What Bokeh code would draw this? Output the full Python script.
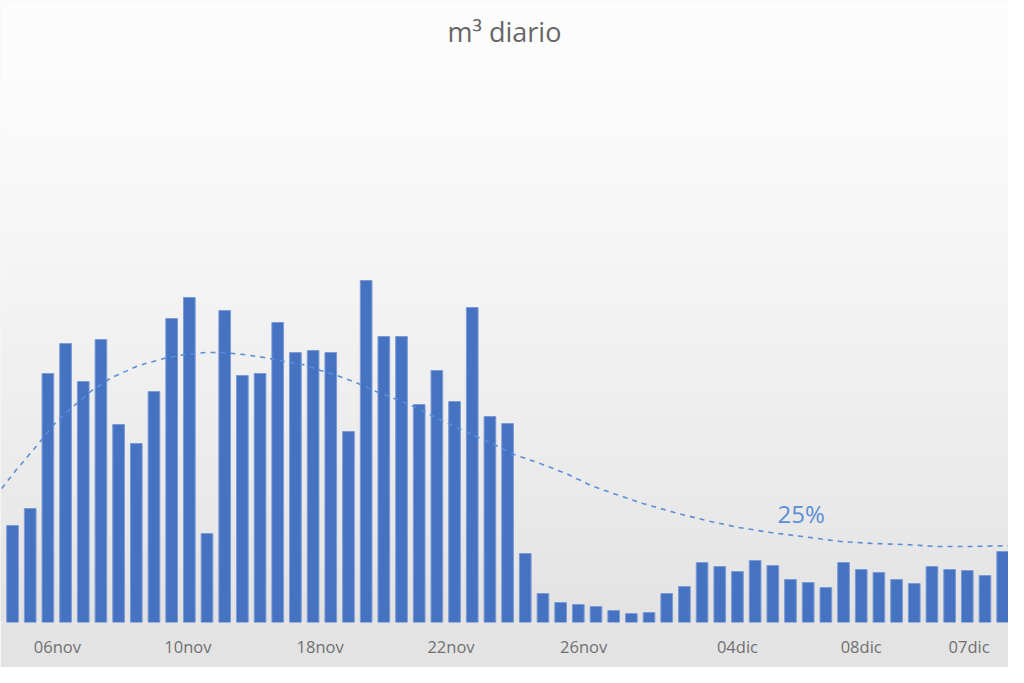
import numpy as np
from bokeh.plotting import figure
from bokeh.models import ColumnDataSource, Range1d, FixedTicker, Label
from bokeh.embed import file_html
from bokeh.resources import INLINE

# ---- data ----
m3_diario = [48.5, 57, 124.5, 139.5, 120.5, 141.5, 99, 89.5, 115.5, 152,
             162.5, 44.5, 156, 123.5, 124.5, 150, 135, 136, 135, 95.5,
             171, 143, 143, 109, 126, 110.5, 157.5, 103, 99.5, 34.5,
             14.5, 10, 9, 8, 6, 4.5, 5, 14.5, 18, 30,
             28, 25.5, 31, 28.5, 21.5, 20, 17.5, 30, 26.5, 25,
             21.5, 19.5, 28, 26.5, 26, 23.5, 35.5]
dias = list(range(len(m3_diario)))

tendencia_x = [-0.61, 0.18, 1.24, 2.54, 3.31, 4.49, 5.61, 7.15, 8.56, 9.75,
               10.93, 11.87, 13.05, 14.24, 15.42, 16.42, 17.42, 18.37, 19.55, 20.56,
               22.33, 23.39, 24.39, 25.4, 26.46, 27.47, 28.38, 29.84, 31.31, 32.72,
               33.81, 35.65, 37.44, 39.23, 41.08, 42.87, 44.66, 46.83, 48.68, 50.47,
               52.26, 54.1, 56.98]
tendencia_y = [67, 76, 87, 101, 107, 116, 122.5, 128.5, 132, 134,
               135, 135, 134, 132.5, 130.5, 129, 126, 123.5, 119.5, 115.5,
               109.5, 105, 100.5, 96.5, 92, 88, 84, 79.5, 74.5, 68.5,
               65, 59.5, 55, 51, 47.5, 45, 43, 40.5, 39.5, 39,
               38, 38, 38.5]

tick_labels = ["06nov", "10nov", "18nov", "22nov", "26nov", "04dic", "08dic", "07dic"]
tick_pos = [2.54, 9.92, 17.4, 24.8, 32.3, 41.0, 48.0, 54.1]

titulo = "m³ diario"
pct_label = "25%"

# ---- figure ----
W, H = 1008, 667
x0, x1 = -0.68, 56.33
y0, y1 = 0, 311

p = figure(width=W, height=H, output_backend="svg", toolbar_location=None,
           x_range=Range1d(x0, x1), y_range=Range1d(y0, y1),
           min_border_left=0, min_border_right=0, min_border_top=0,
           min_border_bottom=45)
p.border_fill_color = "#e3e3e3"
p.background_fill_color = "#efefef"
p.outline_line_color = None
p.grid.visible = False
p.yaxis.visible = False

# background vertical gradient (decoration)
n = 200
t = np.linspace(0, 1, n)  # 0 bottom -> 1 top
shade = (226 + (252 - 226) * np.clip(t * 1.15, 0, 1) ** 0.8).astype(np.uint32)
img = np.empty((n, 1), dtype=np.uint32)
view = img.view(dtype=np.uint8).reshape((n, 1, 4))
view[:, 0, 0] = shade
view[:, 0, 1] = shade
view[:, 0, 2] = shade
view[:, 0, 3] = 255
p.image_rgba(image=[img], x=x0, y=y0, dw=x1 - x0, dh=y1 - y0)

src = ColumnDataSource(dict(x=dias, top=m3_diario))
p.vbar(x="x", top="top", bottom=0, width=0.66, source=src,
       fill_color="#4672c2", line_color="#7c9bd6", line_width=1)

p.line(tendencia_x, tendencia_y, line_color="#5b8ed8", line_width=1.6,
       line_dash="5 5")

xa = p.xaxis[0]
xa.ticker = FixedTicker(ticks=tick_pos)
xa.major_label_overrides = {tp: lab for tp, lab in zip(tick_pos, tick_labels)}
xa.axis_line_color = None
xa.major_tick_line_color = None
xa.minor_tick_line_color = None
xa.major_tick_out = 0
xa.major_label_standoff = 12
xa.major_label_text_font = "Open Sans"
xa.major_label_text_font_size = "16.5px"
xa.major_label_text_color = "#707070"

p.add_layout(Label(x=(x0 + x1) / 2, y=295.5, text=titulo, text_align="center",
                   text_baseline="middle", text_font="Open Sans",
                   text_font_size="27px", text_color="#666666"))
p.add_layout(Label(x=44.6, y=54.5, text=pct_label, text_align="center",
                   text_baseline="middle", text_font="Open Sans",
                   text_font_size="24px", text_color="#5b8ed8"))

open("out.html", "w").write(file_html(p, INLINE))
